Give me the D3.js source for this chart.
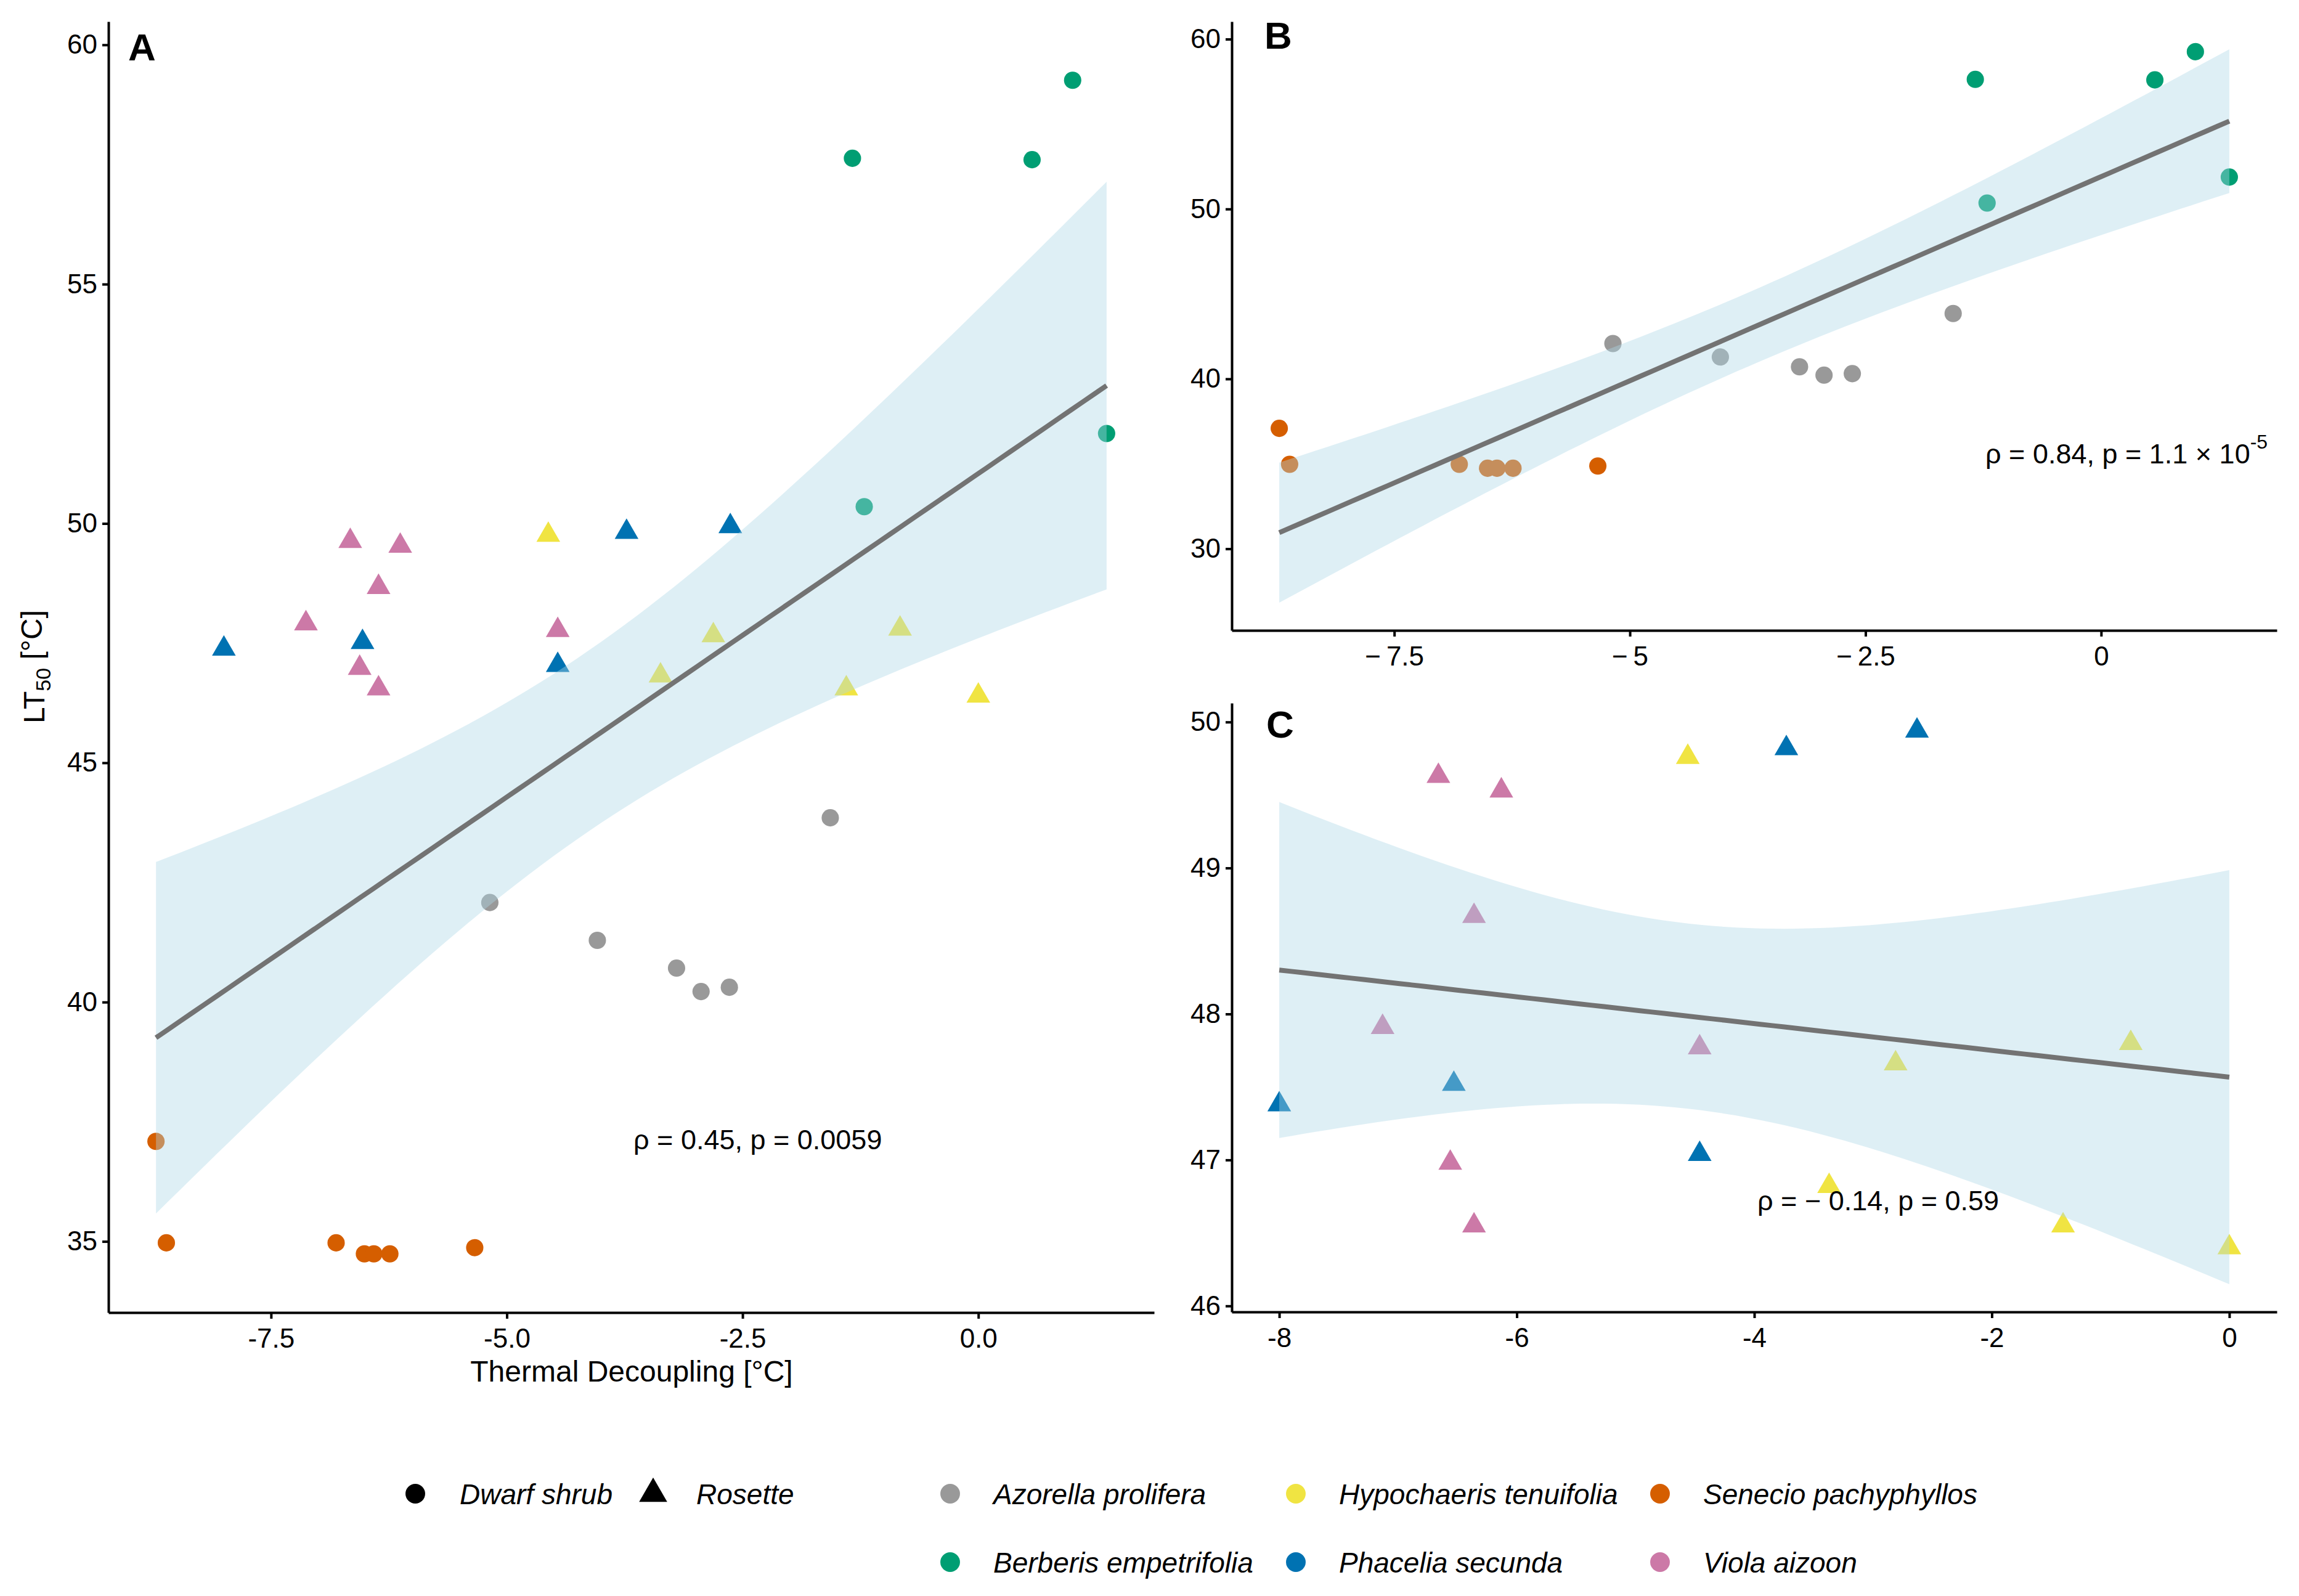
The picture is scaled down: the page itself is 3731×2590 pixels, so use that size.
<!DOCTYPE html>
<html>
<head lang="en">
    <meta charset="UTF-8">
    <title>LT50 vs thermal decoupling</title>
    <script src="https://cdn.jsdelivr.net/npm/d3@7/dist/d3.min.js"></script>
    <style>
        body{margin:0;background:#fff;}
        text{font-family:"Liberation Sans",Arial,sans-serif;fill:#000;}
        .tick text{font-size:44px;}
        .tick line,.domain{stroke:#000;stroke-width:4px;}
        .leg{font-size:46px;font-style:italic;}
    </style>
</head>
<body>
<script>
    // species, colour (Okabe-Ito) and growth form
    var species=["Azorella prolifera","Berberis empetrifolia","Hypochaeris tenuifolia","Phacelia secunda","Senecio pachyphyllos","Viola aizoon"];
    var speciesColors=["#999999","#009E73","#F0E442","#0072B2","#D55E00","#CC79A7"];
    var speciesForm=["Dwarf shrub","Dwarf shrub","Rosette","Rosette","Dwarf shrub","Rosette"];
    var forms=["Dwarf shrub","Rosette"];

    // thermal decoupling [°C] and LT50 [°C] per species
    var azorellaX=[-1.57,-5.18,-4.04,-3.20,-2.94,-2.64];
    var azorellaY=[43.85,42.08,41.29,40.71,40.22,40.31];
    var berberisX=[-1.335,0.57,1.0,1.36,-1.21];
    var berberisY=[57.63,57.60,59.26,51.88,50.35];
    var hypochaerisX=[-4.56,-2.81,-3.37,-0.83,-1.40,0.0];
    var hypochaerisY=[49.76,47.66,46.82,47.80,46.55,46.40];
    var phaceliaX=[-8.0,-6.53,-4.46,-3.73,-2.63];
    var phaceliaY=[47.38,47.52,47.04,49.82,49.94];
    var senecioX=[-8.72,-8.61,-6.81,-6.51,-6.41,-6.24,-5.34];
    var senecioY=[37.09,34.97,34.97,34.74,34.74,34.74,34.87];
    var violaX=[-6.66,-6.13,-6.36,-7.13,-4.46,-6.56,-6.36];
    var violaY=[49.63,49.53,48.67,47.91,47.77,46.98,46.55];

    // tick values and labels per panel
    var ticksAx=[-7.5,-5,-2.5,0], labelsAx=["-7.5","-5.0","-2.5","0.0"];
    var ticksAy=[35,40,45,50,55,60], labelsAy=["35","40","45","50","55","60"];
    var ticksBx=[-7.5,-5,-2.5,0], labelsBx=["\u2212\u20097.5","\u2212\u20095","\u2212\u20092.5","0"];
    var ticksBy=[30,40,50,60], labelsBy=["30","40","50","60"];
    var ticksCx=[-8,-6,-4,-2,0], labelsCx=["-8","-6","-4","-2","0"];
    var ticksCy=[46,47,48,49,50], labelsCy=["46","47","48","49","50"];

    // two-sided 95% t quantiles for df = 34 and df = 16
    var tCrit={34:2.0322,16:2.1199};

    var xs=[azorellaX,berberisX,hypochaerisX,phaceliaX,senecioX,violaX];
    var ys=[azorellaY,berberisY,hypochaerisY,phaceliaY,senecioY,violaY];
    var allPoints=[];
    species.forEach(function(s,i){
        xs[i].forEach(function(x,j){
            allPoints.push({sp:i,form:speciesForm[i],x:x,y:ys[i][j]});
        });
    });

    var W=3731,H=2590;
    var svg=d3.select("body").append("svg")
            .attr("width",W).attr("height",H);

    var circleSym=d3.symbol().type(d3.symbolCircle).size(620);
    var triSym=d3.symbol().type(d3.symbolTriangle).size(640);

    //linear fit with 95% confidence band
    function lmFit(pts){
        var n=pts.length;
        var mx=d3.mean(pts,function(d){return d.x;});
        var my=d3.mean(pts,function(d){return d.y;});
        var sxx=d3.sum(pts,function(d){return (d.x-mx)*(d.x-mx);});
        var sxy=d3.sum(pts,function(d){return (d.x-mx)*(d.y-my);});
        var b=sxy/sxx, a=my-b*mx;
        var sse=d3.sum(pts,function(d){var r=d.y-(a+b*d.x);return r*r;});
        var s=Math.sqrt(sse/(n-2));
        var t=tCrit[n-2];
        var ext=d3.extent(pts,function(d){return d.x;});
        var band=d3.range(80).map(function(i){
            var x=ext[0]+(ext[1]-ext[0])*i/79;
            var yh=a+b*x;
            var se=s*Math.sqrt(1/n+(x-mx)*(x-mx)/sxx);
            return {x:x,y:yh,lo:yh-t*se,hi:yh+t*se};
        });
        return band;
    }

    function expand(ext){
        var d=(ext[1]-ext[0])*0.05;
        return [ext[0]-d,ext[1]+d];
    }

    function drawPanel(cfg){
        var pts=cfg.points;
        var band=lmFit(pts);
        var xExt=d3.extent(pts,function(d){return d.x;});
        var yExt=[Math.min(d3.min(pts,function(d){return d.y;}),d3.min(band,function(d){return d.lo;})),
                  Math.max(d3.max(pts,function(d){return d.y;}),d3.max(band,function(d){return d.hi;}))];
        var x=d3.scaleLinear().domain(expand(xExt)).range([cfg.left,cfg.right]);
        var y=d3.scaleLinear().domain(expand(yExt)).range([cfg.bottom,cfg.top]);
        var g=svg.append("g");

        g.selectAll("path.pt")
                .data(pts)
                .enter()
                .append("path")
                .attr("class","pt")
                .attr("transform",function(d){return "translate("+x(d.x)+","+y(d.y)+")";})
                .attr("d",function(d){return d.form=="Rosette"?triSym():circleSym();})
                .attr("fill",function(d){return speciesColors[d.sp];});

        g.append("path")
                .datum(band)
                .attr("fill","#add8e6")
                .attr("fill-opacity",0.4)
                .attr("d",d3.area()
                        .x(function(d){return x(d.x);})
                        .y0(function(d){return y(d.lo);})
                        .y1(function(d){return y(d.hi);}));
        g.append("path")
                .datum(band)
                .attr("fill","none")
                .attr("stroke","#737373")
                .attr("stroke-width",8)
                .attr("d",d3.line()
                        .x(function(d){return x(d.x);})
                        .y(function(d){return y(d.y);}));

        g.append("g")
                .attr("transform","translate(0,"+cfg.bottom+")")
                .call(d3.axisBottom(x).tickValues(cfg.xt).tickSize(10).tickSizeOuter(0).tickPadding(16)
                        .tickFormat(function(d,i){return cfg.xl[i];}));
        g.append("g")
                .attr("transform","translate("+cfg.left+",0)")
                .call(d3.axisLeft(y).tickValues(cfg.yt).tickSize(10).tickSizeOuter(0).tickPadding(8)
                        .tickFormat(function(d,i){return cfg.yl[i];}));
        g.selectAll(".tick text").attr("fill","#000");

        g.append("text")
                .attr("x",cfg.letter[0]).attr("y",cfg.letter[1])
                .style("font-size","62px").style("font-weight","bold")
                .text(cfg.name);

        var ann=g.append("text")
                .attr("x",cfg.ann[0]).attr("y",cfg.ann[1])
                .style("font-size","45px")
                .text(cfg.annText);
        if(cfg.annSup){
            ann.append("tspan").attr("dy","-0.75em").style("font-size","32px").text(cfg.annSup);
        }
    }

    drawPanel({name:"A",points:allPoints,left:176,right:1873,top:35,bottom:2130,
        xt:ticksAx,xl:labelsAx,yt:ticksAy,yl:labelsAy,letter:[208,98],
        ann:[1028,1865],annText:"\u03c1 = 0.45, p = 0.0059"});
    drawPanel({name:"B",points:allPoints.filter(function(d){return d.form=="Dwarf shrub";}),
        left:1999,right:3695,top:35,bottom:1023,
        xt:ticksBx,xl:labelsBx,yt:ticksBy,yl:labelsBy,letter:[2052,79],
        ann:[3222,752],annText:"\u03c1 = 0.84, p = 1.1 \u00d7 10",annSup:"-5"});
    drawPanel({name:"C",points:allPoints.filter(function(d){return d.form=="Rosette";}),
        left:1999,right:3695,top:1141,bottom:2129,
        xt:ticksCx,xl:labelsCx,yt:ticksCy,yl:labelsCy,letter:[2055,1197],
        ann:[2852,1964],annText:"\u03c1 = \u2212 0.14, p = 0.59"});

    // axis titles
    svg.append("text")
            .attr("x",1025).attr("y",2242)
            .attr("text-anchor","middle")
            .style("font-size","48px")
            .text("Thermal Decoupling [\u00b0C]");
    var yt=svg.append("text")
            .attr("transform","translate(72,1082) rotate(-90)")
            .attr("text-anchor","middle")
            .style("font-size","48px")
            .text("LT");
    yt.append("tspan").attr("dy","0.3em").style("font-size","34px").text("50");
    yt.append("tspan").attr("dy","-0.3em").text(" [\u00b0C]");

    // legend: growth form
    var legForm=svg.append("g").selectAll("g")
            .data(forms)
            .enter()
            .append("g")
            .attr("transform",function(d,i){return "translate("+[674,1060][i]+",2424)";});
    legForm.append("path")
            .attr("d",function(d){
                return d=="Rosette"?d3.symbol().type(d3.symbolTriangle).size(900)():d3.symbol().type(d3.symbolCircle).size(800)();
            })
            .attr("fill","#000");
    legForm.append("text")
            .attr("class","leg")
            .attr("x",function(d,i){return [72,70][i];})
            .attr("dy","0.36em")
            .text(function(d){return d;});

    // legend: species, 3 columns x 2 rows
    var colX=[1542,2103,2694], rowY=[2424,2535];
    var legSp=svg.append("g").selectAll("g")
            .data(species)
            .enter()
            .append("g")
            .attr("transform",function(d,i){
                return "translate("+colX[Math.floor(i/2)]+","+rowY[i%2]+")";
            });
    legSp.append("path")
            .attr("d",d3.symbol().type(d3.symbolCircle).size(800)())
            .attr("fill",function(d,i){return speciesColors[i];});
    legSp.append("text")
            .attr("class","leg")
            .attr("x",70)
            .attr("dy","0.36em")
            .text(function(d){return d;});
</script>
</body>
</html>
